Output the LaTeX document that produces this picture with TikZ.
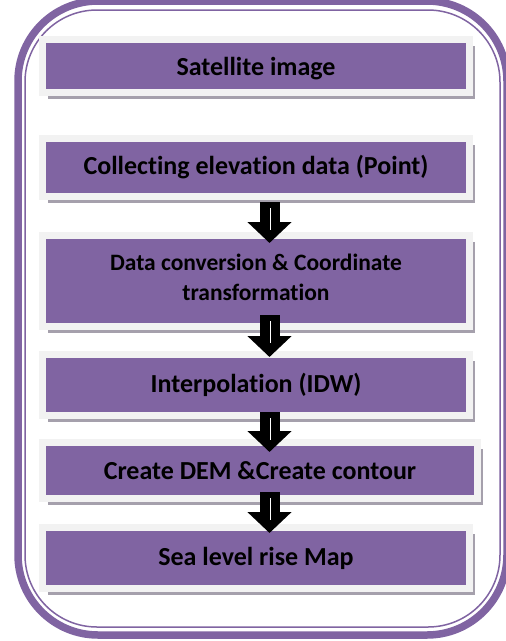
\documentclass[tikz,border=0pt]{standalone}
\usepackage{fontspec}
\setmainfont{Carlito}[Ligatures=NoCommon]
\usepackage{tikz}
\usetikzlibrary{positioning}
\usetikzlibrary{calc}
\usetikzlibrary{shadows}
\usetikzlibrary{arrows.meta}
\definecolor{boxpurple}{RGB}{128,100,162}
\definecolor{framegray}{RGB}{242,242,242}
\definecolor{shadowgray}{RGB}{165,160,172}

\begin{document}
\begin{tikzpicture}[x=1pt,y=-1pt,
		stepbox/.style={rectangle,fill=boxpurple,draw=framegray,line width=7pt,
			minimum width=427pt,inner sep=0pt,text=black,align=center,
			font=\bfseries\fontsize{26}{30}\selectfont,
			drop shadow={shadow xshift=5.5pt,shadow yshift=-6.5pt,fill=shadowgray,opacity=1}},
		flowarrow/.style={black,line width=20pt,-{Triangle[width=43pt,length=21pt]}},
		shine/.style={white,line width=1pt}]
		\useasboundingbox (0,0) rectangle (506,641);

		% outer double frame
		\draw[boxpurple,line width=7.5pt,rounded corners=80pt] (18,1) rectangle (507,635);
		\draw[boxpurple,line width=1.5pt,rounded corners=72pt] (25,10) rectangle (500,627);

		\node[stepbox,minimum height=53pt,text depth=0pt] at (256,66) (sat) {Satellite image};

		\node[stepbox,minimum height=58pt,below = 39pt of sat] (elev) {Collecting elevation data (Point)};

		\node[stepbox,minimum height=91pt,below = 32pt of elev,text depth=7pt,
			font=\bfseries\fontsize{23.5}{30}\selectfont] (conv)
		{Data conversion \& Coordinate\\transformation};

		\node[stepbox,minimum height=61pt,below = 21pt of conv] (idw) {Interpolation (IDW)};

		\node[stepbox,minimum height=56pt,minimum width=435pt,below = 20pt of idw,xshift=4pt] (dem)
		{Create DEM \&Create contour};

		\node[stepbox,minimum height=61pt,below = 22pt of dem,xshift=-4pt] (map) {Sea level rise Map};

		\coordinate (axis) at (269.5,0);

		\coordinate (a1s) at ($ (elev.south -| axis) + (0,2) $);
		\coordinate (a1e) at ($ (conv.north -| axis) + (0,11) $);
		\coordinate (a2s) at ($ (conv.south -| axis) + (0,-15) $);
		\coordinate (a2e) at ($ (idw.north -| axis) + (0,6) $);
		\coordinate (a3s) at ($ (idw.south -| axis) + (0,-7) $);
		\coordinate (a3e) at ($ (dem.north -| axis) + (0,13) $);
		\coordinate (a4s) at ($ (dem.south -| axis) + (0,-10) $);
		\coordinate (a4e) at ($ (map.north -| axis) + (0,9) $);

		\draw[flowarrow] (a1s) to (a1e);
		\draw[flowarrow] (a2s) to (a2e);
		\draw[flowarrow] (a3s) to (a3e);
		\draw[flowarrow] (a4s) to (a4e);

		\draw[shine] ($ (a1s) + (0.5,6) $) to ++(0,22);
		\draw[shine] ($ (a2s) + (0.5,6) $) to ++(0,22);
		\draw[shine] ($ (a3s) + (0.5,6) $) to ++(0,22);
		\draw[shine] ($ (a4s) + (0.5,6) $) to ++(0,22);
	\end{tikzpicture}
\end{document}
